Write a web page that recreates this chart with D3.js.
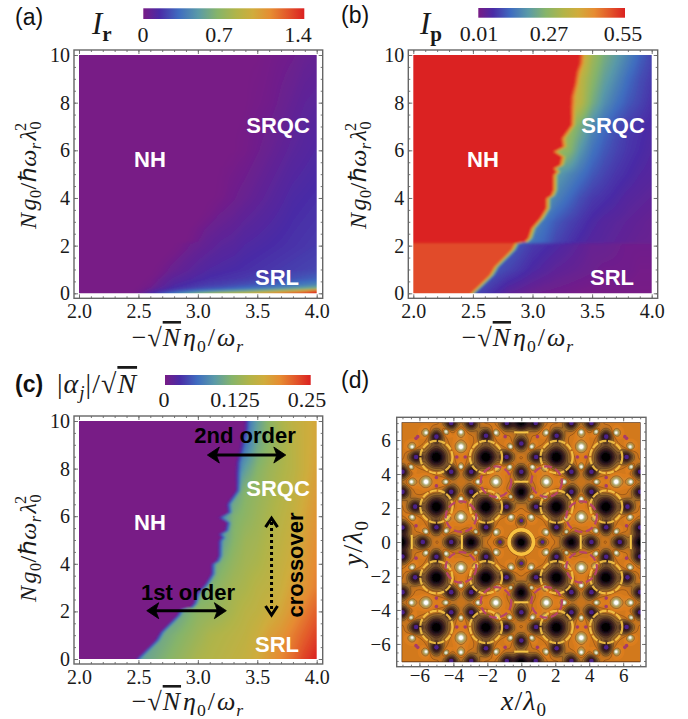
<!DOCTYPE html>
<html>
<head>
<meta charset="utf-8">
<style>
  body { margin: 0; background: #fff; }
  svg { display: block; }
  .tick text { font-family: "Liberation Serif", serif; fill: #1a1a1a; }
  .tick line { stroke: #666; stroke-width: 0.9; }
  .domain { display: none; }
</style>
<script src="https://cdnjs.cloudflare.com/ajax/libs/d3/7.8.5/d3.min.js"></script>
</head>
<body>
<div id="dash"></div>
<script>
// Colour ramp
const rampStops = [0, 0.1, 0.22, 0.34, 0.46, 0.58, 0.68, 0.79, 0.9, 1];
const rampColors = ["#781c86", "#4a2ba6", "#3f6cc0", "#5a9aa8", "#86b46a", "#b2b448", "#d0ac3c", "#e68c32", "#e2552a", "#db2121"];

// Phase boundary (g value -> eta value)
const boundaryG = [0, 0.35, 0.77, 1.12, 1.47, 1.82, 2.1, 2.16, 2.31, 2.73, 3.15, 3.57, 3.98, 4.1, 4.33, 4.96, 5.1, 5.24, 5.38, 5.73, 5.94, 6.15, 6.5, 6.78, 7.06, 7.41, 7.83, 8.25, 8.8, 9.3, 9.65, 10];
const boundaryEta = [2.5, 2.574, 2.66, 2.7, 2.77, 2.84, 2.87, 2.95, 2.98, 3.007, 3.08, 3.13, 3.13, 3.17, 3.19, 3.19, 3.216, 3.19, 3.245, 3.26, 3.19, 3.27, 3.26, 3.3, 3.34, 3.34, 3.337, 3.34, 3.37, 3.385, 3.41, 3.413];

const etaCols = [2.4, 2.6, 2.8, 3.0, 3.1, 3.2, 3.3, 3.4, 3.5, 3.6, 3.7, 3.8, 3.9, 4.0];

// Panel (a) I_r
const rowsA = [0, 0.1, 0.2, 0.35, 0.6, 1, 2, 4, 6, 8, 10];
const valuesA = [
  [0, .12, .35, .6, .7, .8, .85, .9, 1.0, 1.1, 1.2, 1.3, 1.35, 1.4],
  [0, .08, .22, .35, .4, .45, .5, .55, .62, .7, .8, .9, 1.05, 1.3],
  [0, .05, .15, .22, .25, .27, .3, .33, .36, .4, .44, .5, .55, .62],
  [0, .03, .12, .17, .19, .2, .22, .24, .26, .28, .31, .34, .37, .41],
  [0, .02, .09, .13, .15, .16, .17, .18, .2, .21, .22, .24, .26, .28],
  [0, 0, .05, .1, .12, .13, .14, .15, .16, .17, .18, .19, .2, .21],
  [0, 0, .01, .05, .07, .09, .1, .12, .13, .14, .15, .16, .17, .18],
  [0, 0, 0, 0, 0, .01, .03, .05, .07, .09, .11, .13, .14, .15],
  [0, 0, 0, 0, 0, 0, 0, .01, .03, .05, .07, .09, .105, .12],
  [0, 0, 0, 0, 0, 0, 0, 0, .01, .02, .04, .06, .08, .09],
  [0, 0, 0, 0, 0, 0, 0, 0, 0, .01, .02, .03, .05, .06]
];

// Panel (b) I_p
const rowsB = [0, 1, 2.05, 2.15, 3, 4, 5, 6, 7, 8, 9, 10];
const valuesB = [
  [.1, .08, .04, .025, .02, .018, .015, .012, .01, .01, .01, .01, .01, .01],
  [.12, .12, .09, .06, .05, .04, .035, .03, .025, .02, .02, .02, .015, .015],
  [.12, .12, .12, .08, .07, .06, .05, .04, .03, .03, .025, .02, .02, .02],
  [.16, .16, .16, .14, .12, .09, .075, .06, .05, .045, .04, .035, .03, .03],
  [.2, .2, .2, .17, .14, .11, .09, .075, .06, .05, .045, .04, .035, .03],
  [.2, .2, .2, .2, .2, .16, .13, .1, .08, .07, .06, .05, .045, .04],
  [.22, .22, .22, .22, .22, .2, .17, .14, .11, .09, .075, .065, .055, .05],
  [.3, .3, .3, .3, .3, .3, .27, .19, .14, .11, .09, .075, .065, .055],
  [.3, .3, .3, .3, .3, .3, .3, .24, .17, .13, .1, .08, .07, .06],
  [.4, .4, .4, .4, .4, .4, .4, .34, .24, .18, .14, .11, .09, .07],
  [.4, .4, .4, .4, .4, .4, .4, .35, .27, .21, .17, .13, .1, .08],
  [.45, .45, .45, .45, .45, .45, .45, .42, .3, .24, .2, .16, .12, .09]
];

// Panel (c) |alpha_j|/sqrt(N)
const rowsC = [0, 1, 2, 3, 4, 5, 6, 7, 8, 9, 10];
const valuesC = [
  [.08, .1, .12, .14, .145, .15, .155, .16, .17, .185, .2, .215, .235, .25],
  [.09, .09, .11, .13, .14, .145, .15, .155, .165, .18, .19, .205, .22, .235],
  [.09, .09, .09, .12, .125, .13, .14, .15, .155, .165, .175, .19, .205, .22],
  [.09, .09, .09, .1, .11, .125, .135, .14, .15, .155, .165, .18, .19, .205],
  [.08, .08, .08, .08, .09, .11, .125, .135, .14, .15, .16, .17, .185, .2],
  [.08, .08, .08, .08, .08, .09, .115, .13, .135, .145, .155, .165, .18, .195],
  [.07, .07, .07, .07, .07, .07, .11, .12, .13, .14, .15, .16, .175, .19],
  [.07, .07, .07, .07, .07, .07, .09, .115, .125, .135, .145, .155, .17, .185],
  [.05, .05, .05, .05, .05, .05, .05, .09, .115, .13, .14, .15, .165, .18],
  [.05, .05, .05, .05, .05, .05, .05, .06, .1, .12, .135, .15, .165, .175],
  [.04, .04, .04, .04, .04, .04, .04, .05, .09, .12, .14, .155, .165, .175]
];

// Panel (d) features in the upper right quadrant, the pattern mirrors in both axes
const deepWells = [[2.08, 2.08], [2.08, 5], [5, 2.08], [5, 5]];
const axisWells = [[2.95, 0], [0, 2.95], [7.05, 0], [0, 7.05]];
const darkSpots = [[.87, 2.07], [2.07, .87], [.87, 5], [5, .87], [2.08, 6.25], [6.25, 2.08], [5, 6.2], [6.2, 5],
  [2.95, 2.95], [4.13, 2.95], [2.95, 4.13], [4.13, 4.13], [4.13, 0], [0, 4.13], [5.8, 0], [0, 5.8],
  [7, 2.95], [2.95, 7], [7, 4.13], [4.13, 7], [7, .85], [.85, 7]];
const smallDarkSpots = [[1.25, 0], [0, 1.25]];
const bigWhite = [[1.49, 3.55], [3.55, 1.49], [3.55, 5.61], [5.61, 3.55]];
const smallWhite = [[.6, 1.49], [1.49, .6], [2.55, 3.55], [3.55, 2.55], [4.43, 3.55], [3.55, 4.43], [.67, 4.43], [4.43, .67],
  [.62, 5.61], [5.61, .62], [1.49, 6.43], [6.43, 1.49], [5.6, 6.43], [6.43, 5.6], [.6, 2.67], [2.67, .6], [4.43, 6.5], [6.5, 4.43],
  [6.47, 3.55], [3.55, 6.47], [4.4, 1.43], [1.43, 4.4], [2.65, 1.43], [1.43, 2.65]];
const yellowBarsH = [[0, 3.55], [0, 6.45]];
const yellowBarsV = [[3.5, 0], [6.45, 0]];
const pinkRings = [[1.49, 3.55, 0.9], [3.55, 1.49, 0.9]];
const pinkDots = [[3.3, 5.0], [3.8, 5.0], [5.0, 3.3], [5.0, 3.8], [.95, 6.2], [6.2, .95], [6.2, 6.1], [6.1, 6.2]];

// Tick values
const etaTicks = [2.0, 2.5, 3.0, 3.5, 4.0];
const etaMinor = d3.range(2, 4.01, 0.1);
const gTicks = [0, 2, 4, 6, 8, 10];
const gMinor = d3.range(0, 10.01, 0.5);
const posTicks = [-6, -4, -2, 0, 2, 4, 6];
const posMinor = d3.range(-7, 7.01, 0.5);

const svg = d3.select("#dash").append("svg")
  .attr("width", 688)
  .attr("height", 719)
  .attr("viewBox", "0 0 688 719");
const defs = svg.append("defs");

const ramp = d3.scaleLinear().domain(rampStops).range(rampColors).clamp(true);
const boundary = d3.scaleLinear().domain(boundaryG).range(boundaryEta);

defs.append("filter").attr("id", "softHeat")
  .append("feGaussianBlur").attr("stdDeviation", 0.8);

function gridValue(rows, matrix, eta, g) {
  const i = Math.max(0, Math.min(etaCols.length - 2, d3.bisectRight(etaCols, eta) - 1));
  const j = Math.max(0, Math.min(rows.length - 2, d3.bisectRight(rows, g) - 1));
  const u = Math.max(0, Math.min(1, (eta - etaCols[i]) / (etaCols[i + 1] - etaCols[i])));
  const v = Math.max(0, Math.min(1, (g - rows[j]) / (rows[j + 1] - rows[j])));
  const lo = matrix[j][i] + (matrix[j][i + 1] - matrix[j][i]) * u;
  const hi = matrix[j + 1][i] + (matrix[j + 1][i + 1] - matrix[j + 1][i]) * u;
  return lo + (hi - lo) * v;
}

// tspan based math text. parts: {t, i (italic), b (bold), sub, sup, over, back, gap}
function mathText(parent, x, y, parts, size, opts = {}) {
  const text = parent.append("text")
    .attr("transform", `translate(${x},${y}) rotate(${opts.rotate || 0})`)
    .attr("text-anchor", opts.anchor || "middle")
    .style("font-family", '"Liberation Serif", serif')
    .style("font-size", size + "px")
    .style("letter-spacing", (opts.spacing || 0) + "px")
    .attr("fill", "#1a1a1a");
  let shift = 0;
  parts.forEach(p => {
    const want = p.sub ? size * 0.22 : p.sup ? -size * 0.42 : 0;
    const ts = text.append("tspan").text(p.t).attr("dy", want - shift);
    shift = want;
    if (p.i) ts.style("font-style", "italic");
    if (p.b) ts.style("font-weight", "bold");
    if (p.sub || p.sup) ts.style("font-size", (size * 0.68) + "px");
    if (p.back) ts.attr("dx", -p.back);
    if (p.gap) ts.attr("dx", p.gap);
    if (p.over) ts.style("text-decoration", "overline");
  });
  return text;
}

const etaTitle = [{t: "\u2212\u221A"}, {t: "N", i: 1, over: 1}, {t: "\u03B7", i: 1, gap: 2}, {t: "0", sub: 1}, {t: "/", gap: 1}, {t: "\u03C9", i: 1, gap: 1}, {t: "r", i: 1, sub: 1}];
const gTitle = [{t: "N", i: 1}, {t: "g", i: 1, gap: 2}, {t: "0", sub: 1}, {t: "/\u210F"}, {t: "\u03C9", i: 1}, {t: "r", i: 1, sub: 1}, {t: "\u03BB", i: 1, gap: 2}, {t: "0", sub: 1}, {t: "2", sup: 1, back: 10}];

function frame(box, x, y, xTicks, xMinor, yTicks, yMinor, xFormat, yFormat, style) {
  const g = svg.append("g");
  const axes = [
    [d3.axisBottom(x), `translate(0,${box.bottom})`, xTicks, xMinor, xFormat, style.padBottom],
    [d3.axisTop(x), `translate(0,${box.top})`, xTicks, xMinor, "", 0],
    [d3.axisLeft(y), `translate(${box.left},0)`, yTicks, yMinor, yFormat, style.padLeft],
    [d3.axisRight(y), `translate(${box.right},0)`, yTicks, yMinor, "", 0]
  ];
  axes.forEach(([axis, tr, major, minor, fmt, pad]) => {
    g.append("g").attr("transform", tr)
      .call(axis.tickValues(minor).tickSize(-2).tickFormat(""));
    const maj = g.append("g").attr("transform", tr)
      .call(axis.tickValues(major).tickSize(-4)
        .tickPadding(pad)
        .tickFormat(fmt === "" ? "" : fmt));
    maj.selectAll("text").style("font-size", style.size + "px");
  });
  g.append("rect")
    .attr("x", box.left).attr("y", box.top)
    .attr("width", box.right - box.left).attr("height", box.bottom - box.top)
    .attr("fill", "none").attr("stroke", "#666").attr("stroke-width", 1.4);
}

function heatPanel(opts) {
  const { id, left, top, right, bottom, rows, matrix, nhValue, lo, hi } = opts;
  const x = d3.scaleLinear().domain([2, 4]).range([left, right]);
  const y = d3.scaleLinear().domain([0, 10]).range([bottom, top]);
  const color = d3.scaleLinear().domain([lo, hi]).range([0, 1]);

  // a few extra pixels around the plot so the soft edge falls outside the clip
  const pad = 4;
  const sx = (right - left) / Math.round(right - left);
  const sy = (bottom - top) / Math.round(bottom - top);
  const w = Math.round(right - left) + 2 * pad, h = Math.round(bottom - top) + 2 * pad;
  const canvas = document.createElement("canvas");
  canvas.width = w; canvas.height = h;
  const ctx = canvas.getContext("2d");
  const img = ctx.createImageData(w, h);
  for (let j = 0; j < h; j++) {
    const g = Math.max(0, Math.min(10, y.invert(top + (j - pad + 0.5) * sy)));
    const edge = boundary(g);
    for (let i = 0; i < w; i++) {
      const eta = Math.max(2, Math.min(4, x.invert(left + (i - pad + 0.5) * sx)));
      const sr = gridValue(rows, matrix, eta, g);
      const nh = nhValue(g);
      const k = Math.max(0, Math.min(1, (eta - edge) / opts.smear + 0.5));
      const c = d3.rgb(ramp(color(nh + (sr - nh) * k)));
      const o = (j * w + i) * 4;
      img.data[o] = c.r; img.data[o + 1] = c.g; img.data[o + 2] = c.b; img.data[o + 3] = 255;
    }
  }
  ctx.putImageData(img, 0, 0);

  const box = { left: left - 5, right: right + 6, top: top - 5, bottom: bottom + 5 };
  frame(box, x, y, etaTicks, etaMinor, gTicks, gMinor, d3.format(".1f"), d3.format("d"), { size: 20, padBottom: 6, padLeft: 4 });
  defs.append("clipPath").attr("id", id).append("rect")
    .attr("x", left).attr("y", top)
    .attr("width", right - left).attr("height", bottom - top);
  svg.append("g").attr("clip-path", `url(#${id})`)
    .append("image")
    .attr("x", left - pad * sx).attr("y", top - pad * sy)
    .attr("width", w * sx).attr("height", h * sy)
    .attr("preserveAspectRatio", "none")
    .attr("filter", "url(#softHeat)")
    .attr("href", canvas.toDataURL());
  return { x, y };
}

function colorBar(id, x0, x1, y0, y1, labels, centers, baseline) {
  const grad = defs.append("linearGradient").attr("id", id);
  grad.selectAll("stop").data(rampStops).enter().append("stop")
    .attr("offset", d => d)
    .attr("stop-color", (d, i) => rampColors[i]);
  svg.append("rect")
    .attr("x", x0).attr("y", y0)
    .attr("width", x1 - x0).attr("height", y1 - y0)
    .attr("fill", `url(#${id})`);
  svg.selectAll(`text.${id}`).data(labels).enter().append("text")
    .attr("class", id)
    .attr("x", (d, i) => centers[i])
    .attr("y", baseline)
    .attr("text-anchor", "middle")
    .style("font-family", '"Liberation Serif", serif')
    .style("font-size", "22px")
    .attr("fill", "#1a1a1a")
    .text(d => d);
}

function note(x, y, str, fill, rotate) {
  svg.append("text")
    .attr("transform", `translate(${x},${y}) rotate(${rotate || 0})`)
    .attr("text-anchor", "middle")
    .style("font-family", '"Liberation Sans", sans-serif')
    .style("font-weight", "bold")
    .style("font-size", "22px")
    .attr("fill", fill)
    .text(str);
}

function panelLabel(x, y, str, bold) {
  svg.append("text")
    .attr("x", x).attr("y", y)
    .style("font-family", '"Liberation Sans", sans-serif')
    .style("font-size", "23px")
    .style("font-weight", bold ? "bold" : "normal")
    .attr("fill", "#111")
    .text(str);
}

// PANEL A
const pa = heatPanel({ id: "clipA", left: 79, right: 316.7, top: 55, bottom: 293.3, rows: rowsA, matrix: valuesA, nhValue: () => 0, lo: 0, hi: 1.4, smear: 0.16 });
panelLabel(15, 25, "(a)");
mathText(svg, 92, 34, [{t: "I", i: 1}, {t: "r", b: 1, sub: 1}], 31, { anchor: "start" });
colorBar("barA", 143.3, 304.3, 8.3, 19, ["0", "0.7", "1.4"], [143, 219, 298], 42);
note(150, 167, "NH", "#fff");
note(278, 133, "SRQC", "#fff");
note(277, 285, "SRL", "#fff");
mathText(svg, 188, 346, etaTitle, 26, { spacing: 1 });
mathText(svg, 36, 175, gTitle, 24, { rotate: -90, spacing: 0.5 });

// PANEL B
const pb = heatPanel({ id: "clipB", left: 413.3, right: 651.7, top: 55, bottom: 293.3, rows: rowsB, matrix: valuesB, nhValue: g => g < 2.1 ? 0.505 : 0.55, lo: 0.01, hi: 0.55, smear: 0.05 });
panelLabel(341, 23, "(b)");
mathText(svg, 420, 34, [{t: "I", i: 1}, {t: "p", b: 1, sub: 1}], 31, { anchor: "start" });
colorBar("barB", 478.3, 625, 8, 17.7, ["0.01", "0.27", "0.55"], [479, 549, 623], 41);
note(483, 167, "NH", "#fff");
note(613, 133, "SRQC", "#fff");
note(612, 285, "SRL", "#fff");
mathText(svg, 518, 346, etaTitle, 26, { spacing: 1 });
mathText(svg, 366, 175, gTitle, 24, { rotate: -90, spacing: 0.5 });

// PANEL C
const pc = heatPanel({ id: "clipC", left: 79, right: 316.7, top: 421, bottom: 659, rows: rowsC, matrix: valuesC, nhValue: () => 0, lo: 0, hi: 0.25, smear: 0.05 });
panelLabel(15, 392, "(c)", true);
mathText(svg, 57, 393, [{t: "|"}, {t: "\u03B1", i: 1}, {t: "j", i: 1, sub: 1}, {t: "|/\u221A"}, {t: "N", i: 1, over: 1}], 28, { anchor: "start", spacing: 1 });
colorBar("barC", 165, 310.7, 375, 385, ["0", "0.125", "0.25"], [164, 235, 307], 407);
note(150, 530, "NH", "#fff");
note(278, 496, "SRQC", "#fff");
note(277, 652, "SRL", "#fff");
note(188, 600, "1st order", "#000");
note(245, 443, "2nd order", "#000");
note(303, 565, "crossover", "#000", -90);
mathText(svg, 188, 710, etaTitle, 26, { spacing: 1 });
mathText(svg, 36, 548, gTitle, 24, { rotate: -90, spacing: 0.5 });

const arrows = [
  { from: [2.57, 2.03], to: [3.24, 2.03] },
  { from: [3.08, 8.57], to: [3.74, 8.57] },
  { from: [3.62, 5.92], to: [3.62, 1.85], dash: "3 3" }
];
arrows.forEach(a => {
  const p0 = [pc.x(a.from[0]), pc.y(a.from[1])];
  const p1 = [pc.x(a.to[0]), pc.y(a.to[1])];
  const ang = Math.atan2(p1[1] - p0[1], p1[0] - p0[0]);
  const deg = ang * 180 / Math.PI;
  const head = a.dash ? "M-9,-6L0,0L-9,6" : "M-12,-8L0,0L-12,8L-9,0Z";
  svg.append("line")
    .attr("x1", p0[0] + Math.cos(ang) * 4).attr("y1", p0[1] + Math.sin(ang) * 4)
    .attr("x2", p1[0] - Math.cos(ang) * 4).attr("y2", p1[1] - Math.sin(ang) * 4)
    .attr("stroke", "#000").attr("stroke-width", 3)
    .attr("stroke-dasharray", a.dash || null);
  [[p1, deg], [p0, deg + 180]].forEach(([p, r]) => {
    svg.append("path")
      .attr("d", head)
      .attr("transform", `translate(${p[0]},${p[1]}) rotate(${r})`)
      .attr("fill", a.dash ? "none" : "#000")
      .attr("stroke", "#000")
      .attr("stroke-width", a.dash ? 3 : 0.8);
  });
});

// PANEL D
const dx = d3.scaleLinear().domain([-7.05, 7.05]).range([401.6, 641]);
const dy = d3.scaleLinear().domain([-7.05, 7.05]).range([661.8, 422.2]);
frame({ left: 396.7, right: 646, top: 417.3, bottom: 666.7 }, dx, dy, posTicks, posMinor, posTicks, posMinor, d3.format("d"), d3.format("d"), { size: 19, padBottom: 2, padLeft: 6 });

const mirror = pts => {
  const seen = new Set(), out = [];
  pts.forEach(p => [1, -1].forEach(a => [1, -1].forEach(b => {
    const q = [p[0] * a, p[1] * b].concat(p.slice(2));
    const key = q[0] + "_" + q[1];
    if (!seen.has(key)) { seen.add(key); out.push(q); }
  })));
  return out;
};

const bumps = [];
const addBumps = (pts, amp, sd) => mirror(pts).forEach(p => bumps.push({ x: p[0], y: p[1], amp, sd }));
addBumps(deepWells, -1.3, 0.4);
addBumps(axisWells, -1.2, 0.34);
addBumps([[0, 0]], -1.3, 0.3);
addBumps(darkSpots, -0.95, 0.27);
addBumps(smallDarkSpots, -0.6, 0.16);
addBumps(bigWhite, 0.7, 0.11);
addBumps(bigWhite, 0.3, 0.26);
addBumps(smallWhite, 0.65, 0.08);
addBumps(smallWhite, 0.25, 0.22);

const fw = Math.round(dx.range()[1] - dx.range()[0]);
const fh = Math.round(dy.range()[0] - dy.range()[1]);
const field = new Float64Array(fw * fh);
for (let j = 0; j < fh; j++) {
  const yv = dy.invert(dy.range()[1] + (j + 0.5) * (dy.range()[0] - dy.range()[1]) / fh);
  for (let i = 0; i < fw; i++) {
    const xv = dx.invert(dx.range()[0] + (i + 0.5) * (dx.range()[1] - dx.range()[0]) / fw);
    let f = 0.08;
    bumps.forEach(b => {
      const ex = xv - b.x, ey = yv - b.y;
      const r2 = ex * ex + ey * ey;
      if (r2 > 5) return;
      f += b.amp * Math.exp(-r2 / (2 * b.sd * b.sd));
    });
    field[j * fw + i] = f;
  }
}

const sunset = d3.scaleLinear()
  .domain([-1.1, -0.9, -0.65, -0.4, -0.2, 0, 0.12, 0.3, 0.55, 0.8])
  .range(["#000000", "#1a0e18", "#3e2220", "#6e4a2a", "#94682c", "#c8741e", "#e07f1f", "#a89a58", "#c8c4a0", "#ffffff"])
  .clamp(true);

defs.append("clipPath").attr("id", "clipD").append("rect")
  .attr("x", dx.range()[0]).attr("y", dy.range()[1])
  .attr("width", fw).attr("height", fh);
defs.append("filter").attr("id", "softD")
  .append("feGaussianBlur").attr("stdDeviation", 0.6);

const levels = d3.range(-1.6, 1.5, 0.05);
const contours = d3.contours().size([fw, fh]).thresholds(levels)(field);
const path = d3.geoPath();
const dLayer = svg.append("g").attr("clip-path", "url(#clipD)").append("g").attr("filter", "url(#softD)");
const dInner = dLayer.append("g").attr("transform", `translate(${dx.range()[0]},${dy.range()[1]})`);
dInner.append("rect").attr("width", fw).attr("height", fh).attr("fill", "#000");
dInner.selectAll("path.band").data(contours).enter().append("path")
  .attr("class", "band")
  .attr("d", path)
  .attr("fill", d => sunset(d.value));
dInner.selectAll("path.iso")
  .data(contours.filter((d, i) => i % 3 === 0 && d.value > -0.6 && d.value < 0.35))
  .enter().append("path")
  .attr("class", "iso")
  .attr("d", path)
  .attr("fill", "none")
  .attr("stroke", "#1a0d10")
  .attr("stroke-opacity", 0.5)
  .attr("stroke-width", 0.5);

// purple centres, yellow rings and bars, pink arcs sit on top of the contour bands
const unit = Math.abs(dx(1) - dx(0));
dLayer.selectAll("circle.dark").data(mirror(darkSpots)).enter().append("circle")
  .attr("class", "dark")
  .attr("cx", d => dx(d[0])).attr("cy", d => dy(d[1]))
  .attr("r", 2.3).attr("fill", "#4b2088");
dLayer.selectAll("circle.small").data(mirror(smallDarkSpots)).enter().append("circle")
  .attr("class", "small")
  .attr("cx", d => dx(d[0])).attr("cy", d => dy(d[1]))
  .attr("r", 1.8).attr("fill", "#5a2490");
dLayer.selectAll("circle.ring").data(mirror(deepWells)).enter().append("circle")
  .attr("class", "ring")
  .attr("cx", d => dx(d[0])).attr("cy", d => dy(d[1]))
  .attr("r", 0.95 * unit)
  .attr("fill", "none").attr("stroke", "#f6c444").attr("stroke-width", 2.2)
  .attr("stroke-opacity", 0.9)
  .attr("stroke-dasharray", "7 1.6");
dLayer.append("circle")
  .attr("cx", dx(0)).attr("cy", dy(0))
  .attr("r", 0.72 * unit)
  .attr("fill", "none").attr("stroke", "#f8c240").attr("stroke-width", 3.4);
const barLen = 0.42;
dLayer.selectAll("line.barH").data(mirror(yellowBarsH)).enter().append("line")
  .attr("class", "barH")
  .attr("x1", d => dx(d[0] - barLen)).attr("x2", d => dx(d[0] + barLen))
  .attr("y1", d => dy(d[1])).attr("y2", d => dy(d[1]))
  .attr("stroke", "#f6c444").attr("stroke-width", 2);
dLayer.selectAll("line.barV").data(mirror(yellowBarsV)).enter().append("line")
  .attr("class", "barV")
  .attr("x1", d => dx(d[0])).attr("x2", d => dx(d[0]))
  .attr("y1", d => dy(d[1] - barLen)).attr("y2", d => dy(d[1] + barLen))
  .attr("stroke", "#f6c444").attr("stroke-width", 2);
dLayer.selectAll("circle.pink").data(mirror(pinkRings)).enter().append("circle")
  .attr("class", "pink")
  .attr("cx", d => dx(d[0])).attr("cy", d => dy(d[1]))
  .attr("r", d => d[2] * unit)
  .attr("fill", "none").attr("stroke", "#b84468").attr("stroke-width", 2.2)
  .attr("stroke-dasharray", "8 3.5");
dLayer.selectAll("circle.pinkdot").data(mirror(pinkDots)).enter().append("circle")
  .attr("class", "pinkdot")
  .attr("cx", d => dx(d[0])).attr("cy", d => dy(d[1]))
  .attr("r", 1.8).attr("fill", "#a83a68");

panelLabel(341, 388, "(d)");
mathText(svg, 524, 710, [{t: "x", i: 1}, {t: "/"}, {t: "\u03BB", i: 1}, {t: "0", sub: 1}], 28, { spacing: 1 });
mathText(svg, 362, 543, [{t: "y", i: 1}, {t: "/"}, {t: "\u03BB", i: 1}, {t: "0", sub: 1}], 28, { rotate: -90, spacing: 1 });
</script>
</body>
</html>
